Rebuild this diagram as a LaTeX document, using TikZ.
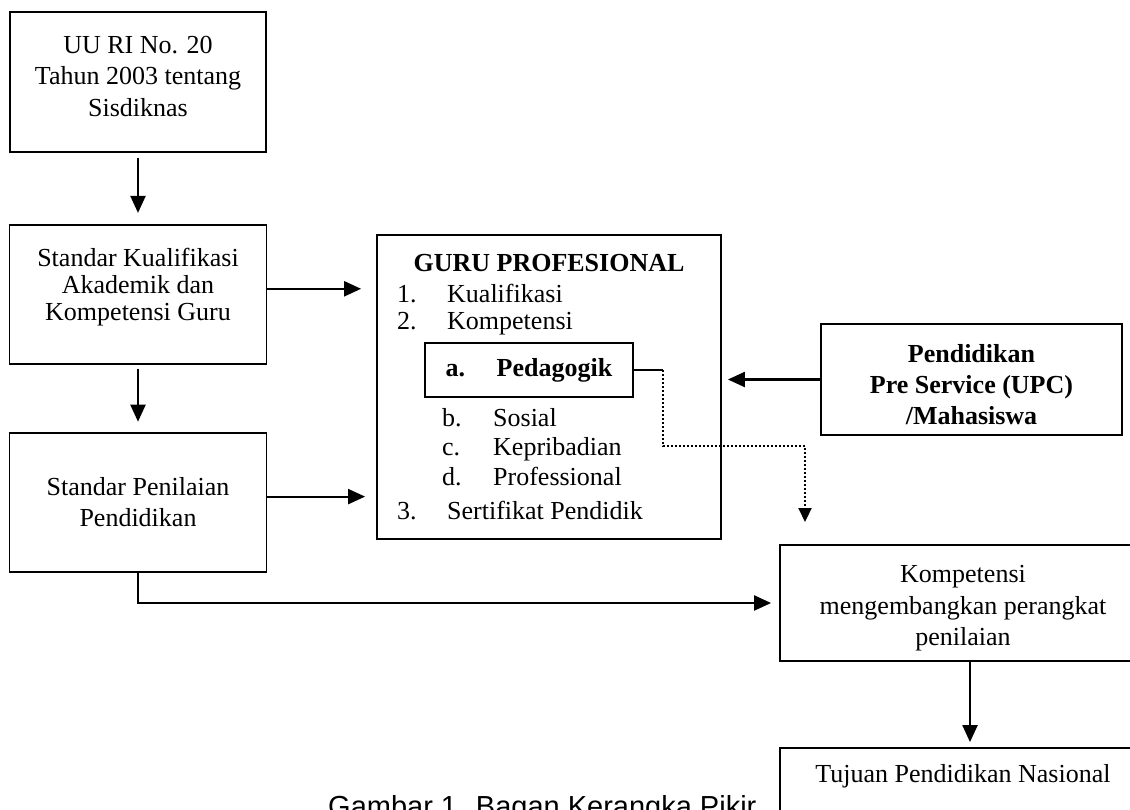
\documentclass[tikz,border=0pt]{standalone}
\usepackage{fontspec}
\setmainfont{Liberation Serif}
\newfontfamily\capfont{Liberation Sans}
\usetikzlibrary{arrows.meta, positioning}
\tikzset{
  blk/.style  = {rectangle, draw, line width=1.8pt, minimum width=#1,
                 align=center, font=\fontsize{26}{31.5}\selectfont},
  blk/.default = 256pt,
  lst/.style  = {anchor=base west, inner sep=0pt,
                 font=\fontsize{26}{30}\selectfont},
  arr/.style  = {-{Triangle[length=17pt, width=15pt]}, line width=2.2pt},
  darr/.style = {-{Triangle[length=14pt, width=13pt]}, line width=2.2pt,
                 dash pattern=on 2pt off 2pt},
}

\begin{document}
\begin{tikzpicture}[x=1pt, y=-1pt]
  \useasboundingbox (0,0) rectangle (1130,809);

  \node[blk, minimum height=140pt, text depth=12pt] (uu) at (138,82)
        {UU RI No. 20\\Tahun 2003 tentang\\Sisdiknas};
  \node[blk=257pt, minimum height=139pt, text depth=20pt, below=71pt of uu,
        font=\fontsize{26}{27}\selectfont] (skak)
        {Standar Kualifikasi\\Akademik dan\\Kompetensi Guru};
  \node[blk=257pt, minimum height=139pt, below=67pt of skak] (spp)
        {Standar Penilaian\\Pendidikan};

  \node[blk=344pt, minimum height=304pt] (guru) at (549,387) {};
  \node[lst, anchor=base, font=\bfseries\fontsize{26}{30}\selectfont] (gtit)
        at (549,271) {GURU PROFESIONAL};
  \node[lst] (g1) at (397,302) {\makebox[50pt][l]{1.}Kualifikasi};
  \node[lst] (g2) at (397,329) {\makebox[50pt][l]{2.}Kompetensi};
  \node[blk=208pt, minimum height=54pt,
        font=\bfseries\fontsize{26}{30}\selectfont] (ped) at (529,370)
        {\makebox[51pt][l]{a.}Pedagogik};
  \node[lst] (gb) at (442,426) {\makebox[51pt][l]{b.}Sosial};
  \node[lst] (gc) at (442,455) {\makebox[51pt][l]{c.}Kepribadian};
  \node[lst] (gd) at (442,485) {\makebox[51pt][l]{d.}Professional};
  \node[lst] (g3) at (397,519) {\makebox[50pt][l]{3.}Sertifikat Pendidik};

  \node[blk=301pt, minimum height=111pt, text height=90pt,
        font=\bfseries\fontsize{26}{31}\selectfont] (psv) at (971.5,379.5)
        {Pendidikan\\Pre Service (UPC)\\/Mahasiswa};
  \node[blk=366pt, minimum height=116pt, text height=91pt] (komp) at (963,603)
        {Kompetensi\\mengembangkan perangkat\\penilaian};
  \node[blk=366pt, minimum height=70pt, text depth=20pt] (tuj) at (963,783)
        {Tujuan Pendidikan Nasional};

  \node[lst, font=\capfont\fontsize{29}{34}\selectfont] (cap) at (328,816)
        {Gambar 1. Bagan Kerangka Pikir};

  \draw[arr, shorten <=5pt, shorten >=11pt] (uu) -- (skak);
  \draw[arr, shorten <=4pt, shorten >=10pt] (skak) -- (spp);
  \draw[arr, shorten >=15pt] ([yshift=5.5pt]skak.east)
        -- ([yshift=5.5pt]skak.east -| guru.west);
  \draw[arr, shorten >=11pt] ([yshift=5.5pt]spp.east)
        -- ([yshift=5.5pt]spp.east -| guru.west);
  \draw[arr, shorten >=8pt] (spp.south) |- (komp.west);
  \draw[arr, shorten >=6pt] (psv.west) -- (psv.west -| guru.east);
  \draw[arr, shorten >=5pt] ([xshift=7pt]komp.south) -- ([xshift=7pt]tuj.north);

  \coordinate (dtip) at (805,522);
  \draw[line width=1.8pt] (ped.east) -- ++(29,0) coordinate (pbend);
  \draw[darr] (pbend) -- ++(0,76) -| (dtip);

\end{tikzpicture}
\end{document}
